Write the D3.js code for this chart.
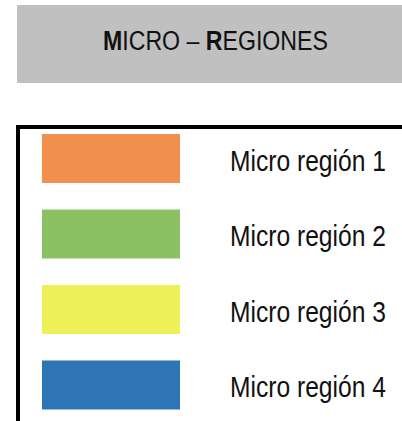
<!DOCTYPE html>
<html>
<head>
<meta charset="utf-8">
<script src="https://cdn.jsdelivr.net/npm/d3@7"></script>
<style>
  body { margin: 0; background: #fff; }
  svg { display: block; }
  text { font-family: "Liberation Sans Narrow", "Arial Narrow", "Liberation Sans", Arial, sans-serif; }
</style>
</head>
<body>
<div id="chart-area"></div>
<script>
const width = 402, height = 421;

// Legend data
const categories = ["Micro región 1", "Micro región 2", "Micro región 3", "Micro región 4"];
const colors = ["#f08f4e", "#8bc163", "#eef057", "#2e75b6"];
const titleParts = [
    {text: "M", bold: true},
    {text: "ICRO – ", bold: false},
    {text: "R", bold: true},
    {text: "EGIONES", bold: false}
];

const svg = d3.select("#chart-area").append("svg")
    .attr("width", width)
    .attr("height", height);

// Title box
svg.append("rect")
    .attr("x", 17).attr("y", 5)
    .attr("width", width - 17).attr("height", 78)
    .attr("fill", "#c0c0c0");

// Narrow look: squeeze the title horizontally into its span
const titleG = svg.append("g");
const title = titleG.append("text")
    .attr("x", 0).attr("y", 0)
    .attr("font-size", 27)
    .attr("fill", "#111");
title.selectAll("tspan")
    .data(titleParts)
    .join("tspan")
    .attr("font-weight", d => d.bold ? "bold" : "normal")
    .text(d => d.text);
const titleW = title.node().getComputedTextLength();
titleG.attr("transform", `translate(103,50) scale(${225 / titleW},1)`);

// Legend frame (open to right/bottom)
svg.append("path")
    .attr("d", `M18,${height + 5}V127H${width + 5}`)
    .attr("fill", "none")
    .attr("stroke", "#000")
    .attr("stroke-width", 4);

const y = d3.scalePoint()
    .domain(categories)
    .range([158.5, 385]);

const color = d3.scaleOrdinal()
    .domain(categories)
    .range(colors);

const item = svg.append("g")
    .selectAll("g")
    .data(categories)
    .join("g")
    .attr("transform", d => `translate(0,${y(d)})`);

item.append("rect")
    .attr("x", 42).attr("y", -24.5)
    .attr("width", 138).attr("height", 49)
    .attr("fill", d => color(d));

const labelG = item.append("g")
    .attr("transform", "translate(230,12)");
const labels = labelG.append("text")
    .attr("font-size", 29)
    .attr("fill", "#111")
    .text(d => d);

const squeeze = 156 / labels.node().getComputedTextLength();
labelG.attr("transform", `translate(230,12) scale(${squeeze},1)`);
</script>
</body>
</html>
